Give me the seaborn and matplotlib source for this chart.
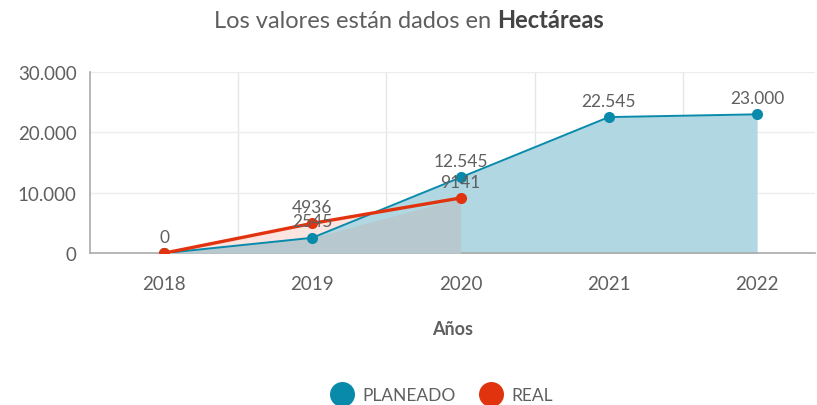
import numpy as np
import pandas as pd
import matplotlib.pyplot as plt
import seaborn as sns
from matplotlib.lines import Line2D

# data
years = ['2018', '2019', '2020', '2021', '2022']
planeado = [0, 2545, 12545, 22545, 23000]
real = [0, 4936, 9141]
planeado_labels = ['0', '2545', '12.545', '22.545', '23.000']
real_labels = ['0', '4936', '9141']

blue = '#0a8aab'
blue_fill = '#b1d8e2'
pink_fill = '#fce4e0'
overlap_fill = '#b7c8ce'
red = '#e2330f'
grey = '#5f5f5f'

sns.set_style('white')
plt.rcParams['font.family'] = ['Lato', 'DejaVu Sans']

df_plan = pd.DataFrame({'x': range(len(years)), 'valor': planeado})
df_real = pd.DataFrame({'x': range(len(real)), 'valor': real})

fig = plt.figure(figsize=(8.17, 4.06), dpi=100)
ax = fig.add_axes([0.110, 0.374, 0.8875, 0.446])

# fills
n = len(real)
ax.fill_between(df_real['x'], df_real['valor'], color=pink_fill, zorder=1, lw=0)
ax.fill_between(df_plan['x'], df_plan['valor'], color=blue_fill, zorder=2, lw=0)
ax.fill_between(df_real['x'], np.minimum(df_plan['valor'][:n], df_real['valor']),
                color=overlap_fill, zorder=3, lw=0)

sns.lineplot(data=df_plan, x='x', y='valor', color=blue, lw=1.4, marker='o',
             markersize=8, markeredgewidth=0, ax=ax, zorder=4)
sns.lineplot(data=df_real, x='x', y='valor', color=red, lw=2.4, marker='o',
             markersize=8, markeredgewidth=0, ax=ax, zorder=5)

# data labels
for i, (v, t) in enumerate(zip(planeado, planeado_labels)):
    ax.annotate(t, (i, v), xytext=(0, 6), textcoords='offset points', ha='center',
                va='bottom', fontsize=12.5, color=grey, zorder=6)
for i, (v, t) in enumerate(zip(real, real_labels)):
    if i == 0:
        continue
    ax.annotate(t, (i, v), xytext=(0, 6), textcoords='offset points', ha='center',
                va='bottom', fontsize=12.5, color=grey, zorder=6)

ax.set_xlim(-0.5, 4.39)
ax.set_ylim(0, 30000)
ax.set_xticks(range(len(years)))
ax.set_xticklabels(years)
ax.set_yticks([0, 10000, 20000, 30000])
ax.set_yticklabels(['0', '10.000', '20.000', '30.000'])
ax.tick_params(axis='both', labelsize=13.5, colors='#999999', labelcolor=grey, length=6, width=1)
ax.tick_params(axis='x', pad=10)

for x in [0.5, 1.5, 2.5, 3.5]:
    ax.axvline(x, color='#e6e6e6', lw=1, zorder=0)
for y in [10000, 20000, 30000]:
    ax.axhline(y, color='#ededed', lw=1, zorder=0)

for s in ['top', 'right']:
    ax.spines[s].set_visible(False)
for s in ['left', 'bottom']:
    ax.spines[s].set_color('#aaaaaa')
    ax.spines[s].set_linewidth(1.2)

ax.set_xlabel('Años', fontsize=13, fontweight='bold', color=grey, labelpad=20)
ax.set_ylabel('')

# title with bold part
t1 = fig.text(0.5, 0.93, 'Los valores están dados en ', fontsize=17, color=grey, ha='left', va='baseline')
t2 = fig.text(0.5, 0.93, 'Hectáreas', fontsize=17, color='#444444', fontweight='bold', ha='left', va='baseline')
fig.canvas.draw()
r = fig.canvas.get_renderer()
w1 = t1.get_window_extent(r).width
w2 = t2.get_window_extent(r).width
W = fig.get_figwidth() * fig.dpi
x0 = (W - w1 - w2) / 2 / W
t1.set_x(x0)
t2.set_x(x0 + w1 / W)

handles = [Line2D([], [], marker='o', ls='', color=blue, markersize=18, markeredgewidth=0),
           Line2D([], [], marker='o', ls='', color=red, markersize=18, markeredgewidth=0)]
fig.legend(handles, ['PLANEADO', 'REAL'], loc='center', bbox_to_anchor=(0.537, 0.025),
           ncol=2, frameon=False, fontsize=12.5, labelcolor=grey, handletextpad=0.2,
           columnspacing=1.0)

fig.savefig('out.png', dpi=100)
